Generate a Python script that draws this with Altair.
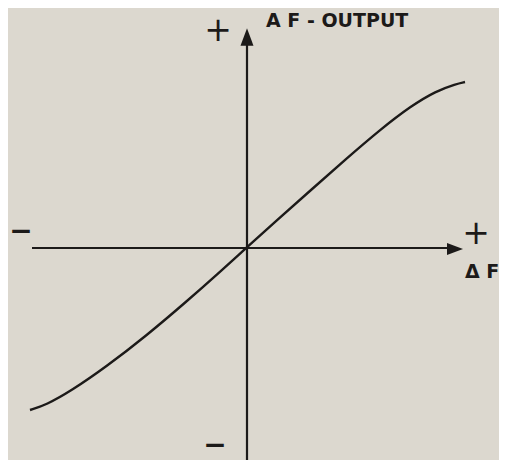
import altair as alt
import pandas as pd

# Curve values (delta F vs AF output)
delta_f = [-216, -200, -175, -140, -100, -60, -25, 0, 30, 65, 100, 135, 165, 190, 210, 219]
af_out = [-162, -157, -143, -119, -88, -54, -23, 0, 27, 58, 89, 119, 142, 157, 164, 166]

# axis extents
h_axis_x = [-214, 204]
v_axis_y = [-222, 210]

# labels
plus_text = ["+", "+"]
plus_x = [-28, 230]
plus_y = [217, 14]
minus_text = ["\u2212", "\u2212"]
minus_x = [-225, -31]
minus_y = [16, -198]
title_text = ["A F - OUTPUT", "\u0394 F"]
title_x = [20, 219]
title_y = [221, -30]

W, H = 491, 452
xs = alt.Scale(domain=[-238, 253], nice=False, zero=False)
ys = alt.Scale(domain=[-212, 240], nice=False, zero=False)
INK = "#1c1a19"

X = lambda: alt.X("x:Q", scale=xs, axis=None)
Y = lambda: alt.Y("y:Q", scale=ys, axis=None)

curve_df = pd.DataFrame({"x": delta_f, "y": af_out, "o": range(len(delta_f))})
curve = alt.Chart(curve_df).mark_line(
    color=INK, strokeWidth=2.4, interpolate="basis", clip=False
).encode(x=X(), y=Y(), order="o:Q")

h_df = pd.DataFrame({"x": [h_axis_x[0]], "x2": [h_axis_x[1]], "y": [0]})
h_axis = alt.Chart(h_df).mark_rule(color=INK, strokeWidth=2.2, clip=False).encode(
    x=X(), x2="x2:Q", y=Y()
)
v_df = pd.DataFrame({"y": [v_axis_y[0]], "y2": [v_axis_y[1]], "x": [1]})
v_axis = alt.Chart(v_df).mark_rule(color=INK, strokeWidth=2.2, clip=False).encode(
    y=Y(), y2="y2:Q", x=X()
)

up_df = pd.DataFrame({"x": [1], "y": [211]})
up_arrow = alt.Chart(up_df).mark_point(
    shape="M-0.75,1 L0.75,1 L0,-1 Z", size=300, filled=True, color=INK, opacity=1, clip=False
).encode(x=X(), y=Y())

right_df = pd.DataFrame({"x": [209], "y": [-1]})
right_arrow = alt.Chart(right_df).mark_point(
    shape="M-1,-0.75 L1,0 L-1,0.75 Z", size=256, filled=True, color=INK, opacity=1, clip=False
).encode(x=X(), y=Y())

plus_df = pd.DataFrame({"t": plus_text, "x": plus_x, "y": plus_y})
pluses = alt.Chart(plus_df).mark_text(
    font="DejaVu Sans", fontSize=33, color=INK, align="center", baseline="middle", clip=False
).encode(x=X(), y=Y(), text="t:N")

minus_df = pd.DataFrame({"t": minus_text, "x": minus_x, "y": minus_y})
minuses = alt.Chart(minus_df).mark_text(
    font="DejaVu Sans", fontSize=28, fontWeight="bold", color=INK, align="center",
    baseline="middle", clip=False
).encode(x=X(), y=Y(), text="t:N")

title_df = pd.DataFrame({"t": title_text, "x": title_x, "y": title_y})
titles = alt.Chart(title_df).mark_text(
    font="DejaVu Sans", fontSize=19, fontWeight="bold", color=INK, align="left",
    baseline="alphabetic", clip=False
).encode(x=X(), y=Y(), text="t:N")

chart = alt.layer(h_axis, v_axis, up_arrow, right_arrow, curve, pluses, minuses, titles).properties(
    width=W, height=H, padding=0, autosize=alt.AutoSizeParams(type="none"),
    background="#dcd8cf",
).configure_view(stroke=None)

chart.save("out.html", embed_options={"renderer": "svg", "actions": False})
